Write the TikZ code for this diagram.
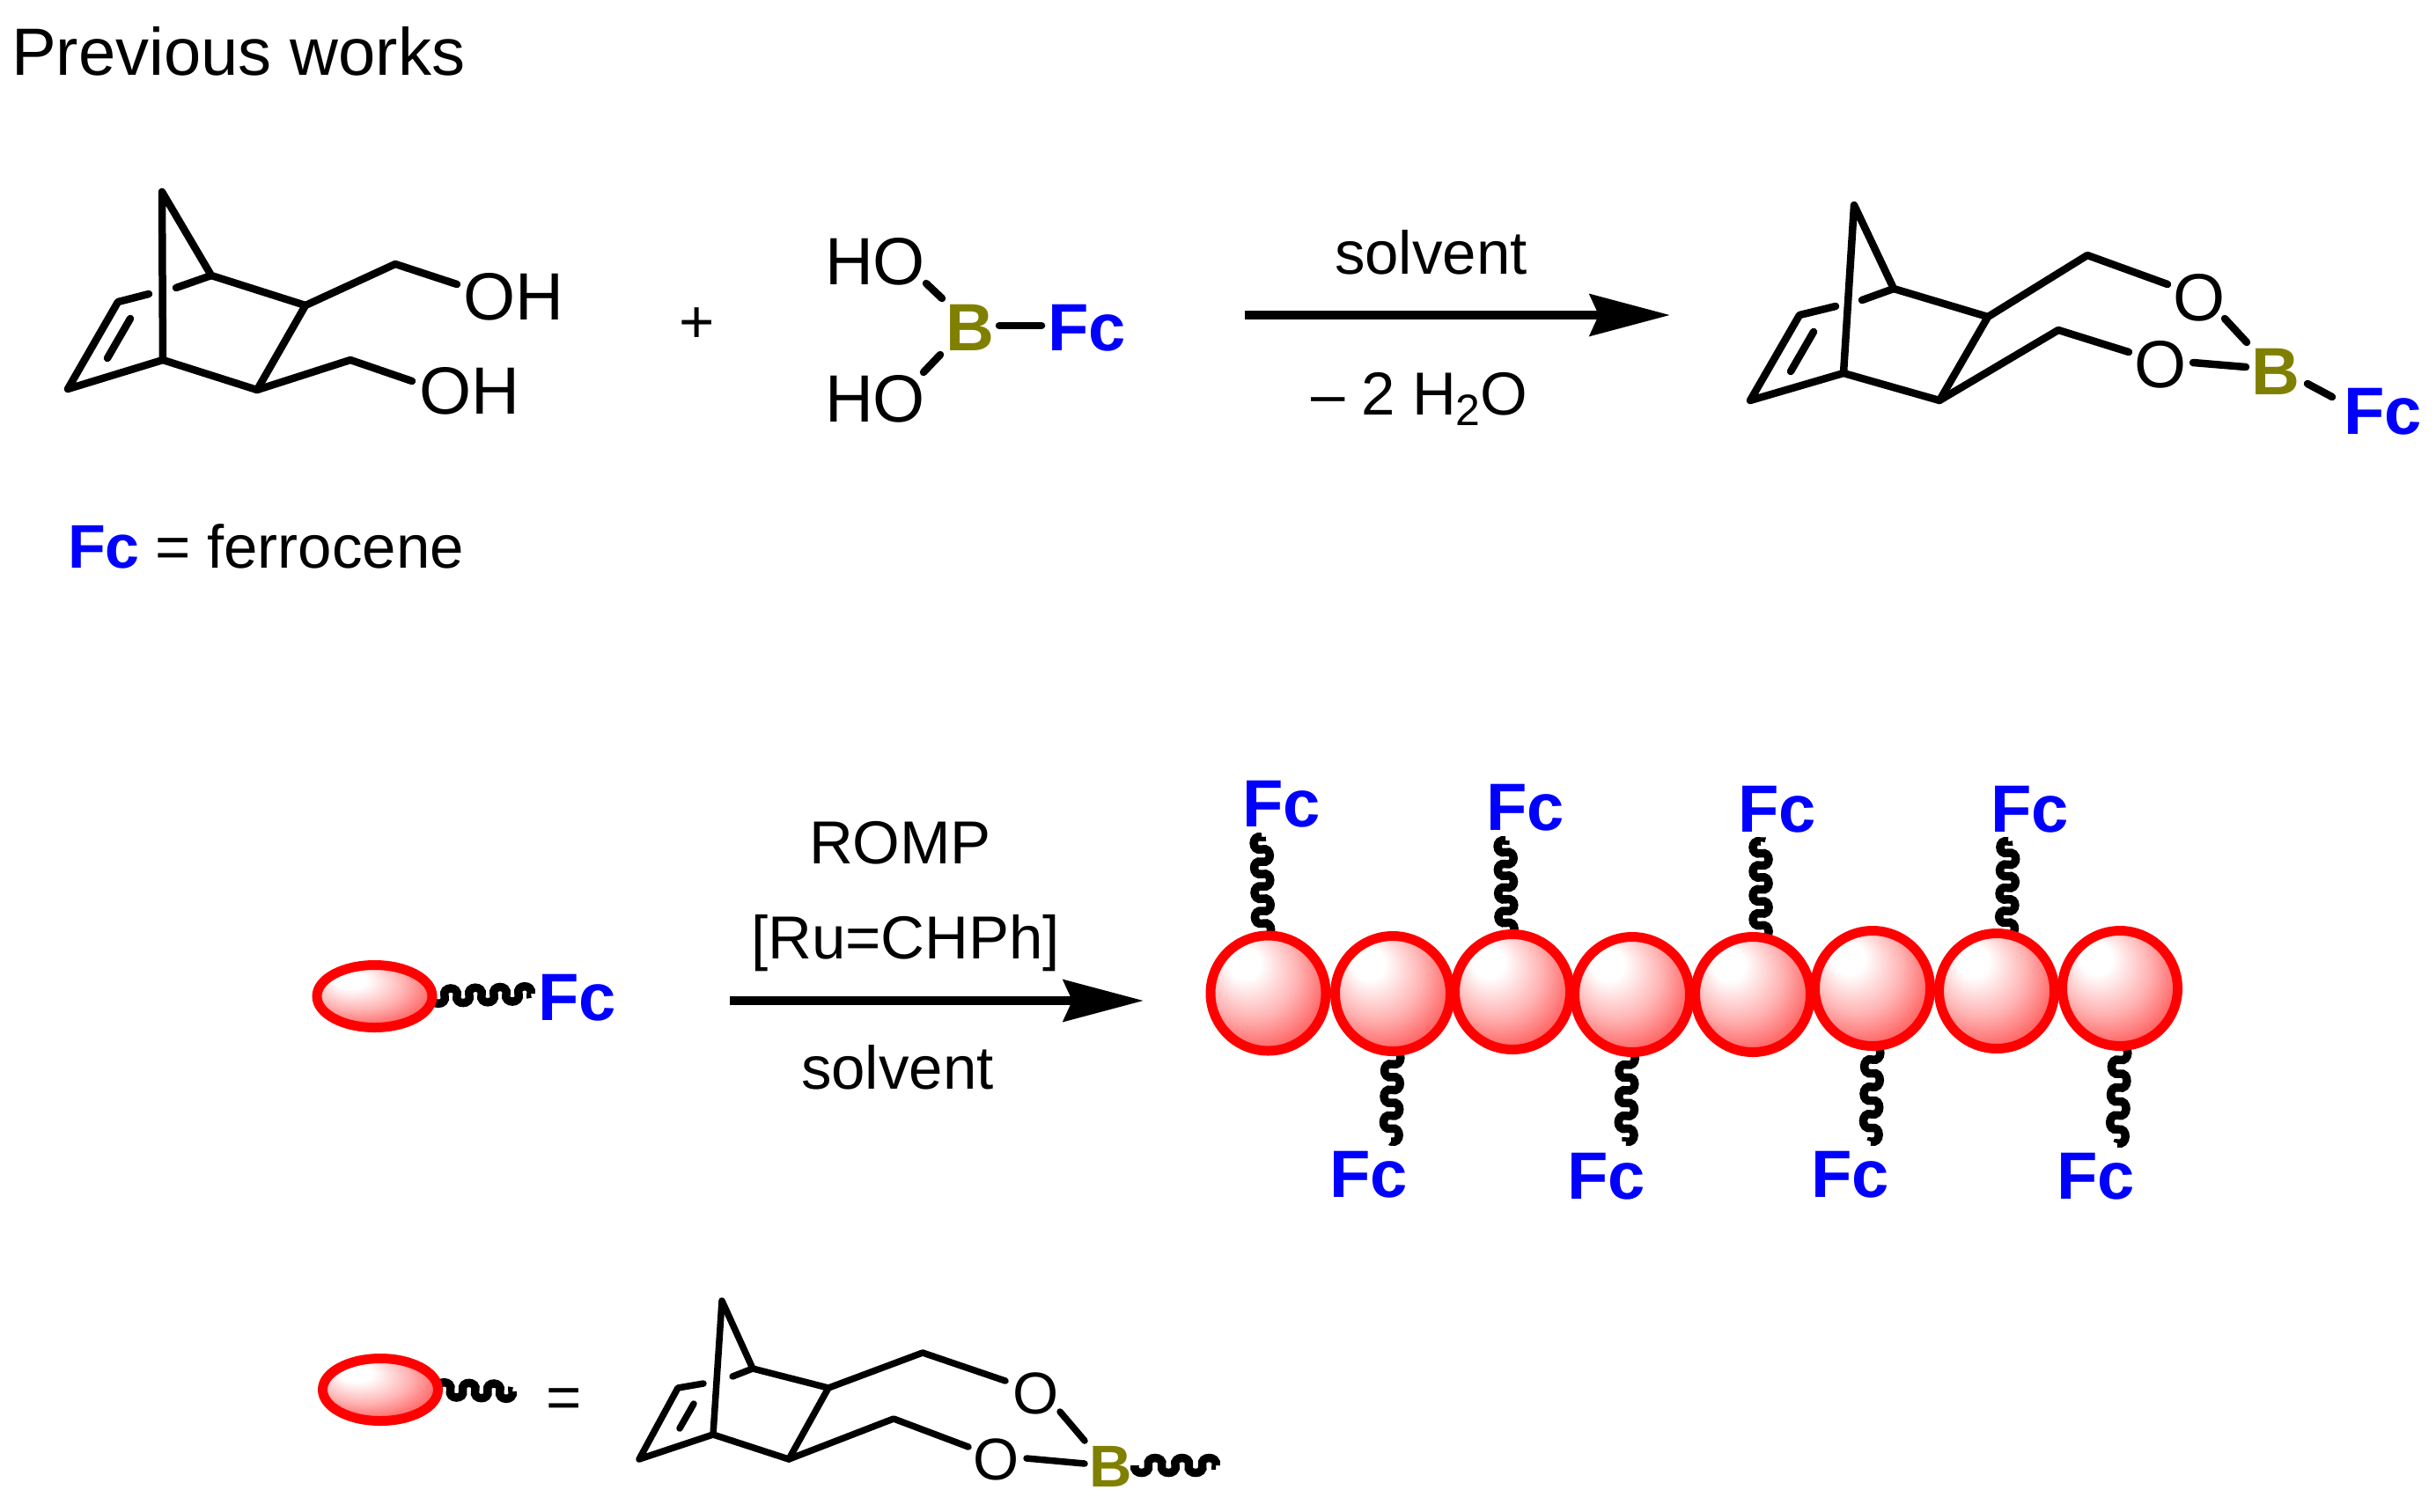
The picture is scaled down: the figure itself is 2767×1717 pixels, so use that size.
\documentclass[tikz,border=0pt]{standalone}
\usepackage{fontspec}
\setmainfont{Liberation Sans}
\usetikzlibrary{arrows.meta,shapes.geometric,decorations}
\pgfdeclarelayer{bg}
\pgfsetlayers{bg,main}
\definecolor{boronc}{RGB}{128,128,0}
\definecolor{fcblue}{RGB}{0,0,255}
\pgfdeclareradialshading{ballshade}{\pgfpoint{-12bp}{15bp}}{color(0bp)=(white);color(7bp)=(white);color(20bp)=(red!30!white);color(33bp)=(red!68!white);color(43bp)=(red);color(50bp)=(red)}
\pgfdeclaredecoration{swave}{up}{
  \state{up}[switch if less than=1pt to final,width=\pgfdecoratedpathlength/\wavecount,next state=down]{
    \pgfmathsetlengthmacro\wvw{\pgfdecoratedpathlength/\wavecount}
    \pgfpathcurveto{\pgfpoint{-3pt}{1.33*\pgfdecorationsegmentamplitude}}{\pgfpoint{\wvw+3pt}{1.33*\pgfdecorationsegmentamplitude}}{\pgfpoint{\wvw}{0pt}}
  }
  \state{down}[switch if less than=1pt to final,width=\pgfdecoratedpathlength/\wavecount,next state=up]{
    \pgfmathsetlengthmacro\wvw{\pgfdecoratedpathlength/\wavecount}
    \pgfpathcurveto{\pgfpoint{-3pt}{-1.33*\pgfdecorationsegmentamplitude}}{\pgfpoint{\wvw+3pt}{-1.33*\pgfdecorationsegmentamplitude}}{\pgfpoint{\wvw}{0pt}}
  }
  \state{final}{\pgfpathlineto{\pgfpointdecoratedpathlast}}
}
\tikzset{
  x=1pt,y=-1pt,
  bond/.style={line width=8.5pt,line cap=round,line join=round},
  sbond/.style={line width=7.5pt,line cap=round,line join=round},
  rxn/.style={line width=10pt,-{Stealth[length=91pt,width=47pt,inset=10pt]}},
  lab/.style={anchor=base west,inner sep=0pt,outer sep=0pt,font=\fontsize{76}{76}\selectfont},
  txt/.style={anchor=base west,inner sep=0pt,outer sep=0pt,font=\fontsize{69}{69}\selectfont},
  slab/.style={anchor=base west,inner sep=0pt,outer sep=0pt,font=\fontsize{67}{67}\selectfont},
  fc/.style={lab,text=fcblue,font=\fontsize{76}{76}\selectfont\bfseries},
  boron/.style={lab,text=boronc,font=\fontsize{76}{76}\selectfont\bfseries},
  bead/.style={circle,inner sep=0pt,outer sep=0pt,minimum size=131pt,draw=red,line width=11pt,shading=ballshade},
  capsule/.style={ellipse,inner sep=0pt,outer sep=0pt,minimum width=131pt,minimum height=71pt,draw=red,line width=11pt,shading=ballshade},
  setwaves/.code={\def\wavecount{#1}},
  wig/.style 2 args={line width=9.5pt,setwaves=#1,decorate,decoration={swave,amplitude=#2}},
}
\begin{document}
\begin{tikzpicture}
\useasboundingbox (0,0) rectangle (2767,1717);

\node[lab] (title) at (13,85) {Previous works};

% --- diol
\coordinate (a1) at (184,218);
\coordinate (a2) at (185,409);
\coordinate (a3) at (240,313);
\coordinate (a4) at (347,347);
\coordinate (a5) at (292,443);
\coordinate (a6) at (449,300);
\coordinate (a7) at (519,323);
\coordinate (a8) at (398,409);
\coordinate (a9) at (468,433);
\coordinate (a10) at (77,442);
\coordinate (a11) at (134,343);
\coordinate (a12) at (169,334);
\coordinate (a13) at (200,327);
\coordinate (a14) at (148,362);
\coordinate (a15) at (122,407);
\draw[bond] (a2) -- (a1) -- (a3) -- (a4) -- (a5) -- (a2) -- (a10) -- (a11) -- (a12);
\draw[bond] (a13) -- (a3);
\draw[bond] (a4) -- (a6) -- (a7);
\draw[bond] (a5) -- (a8) -- (a9);
\draw[bond] (a14) -- (a15);
\node[lab] (oh1) at (526,363) {OH};
\node[lab] (oh2) at (476,470) {OH};
\node[txt] (plus) at (771,389) {+};

\node[txt] (fclabel) at (77,645) {\fontsize{70}{70}\selectfont\bfseries\textcolor{fcblue}{Fc}};
\node[txt] (fctext) at (176,645) {= ferrocene};

% --- boronic acid
\node[lab] (ho1) at (937,323) {HO};
\node[lab] (ho2) at (937,479) {HO};
\node[boron] (b1) at (1074,398) {B};
\node[fc] (fc1) at (1190,398) {Fc};
\coordinate (c1) at (1052,322);
\coordinate (c2) at (1070,339);
\coordinate (c3) at (1135,370);
\coordinate (c4) at (1183,370);
\coordinate (c5) at (1068,403);
\coordinate (c6) at (1049,423);
\draw[bond] (c1) -- (c2);
\draw[bond] (c3) -- (c4);
\draw[bond] (c5) -- (c6);

% --- arrow 1
\coordinate (r1s) at (1414,358);
\coordinate (r1e) at (1897,358);
\draw[rxn] (r1s) -- (r1e);
\node[txt] (solv1) at (1516,311) {solvent};
\node[txt] (water) at (1489,471) {– 2 H{\fontsize{50}{50}\selectfont\raisebox{-12pt}{2}}O};

% --- boronate ester
\coordinate (d1) at (2106,233);
\coordinate (d2) at (2094,424);
\coordinate (d3) at (2151,328);
\coordinate (d4) at (2258,360);
\coordinate (d5) at (2203,455);
\coordinate (d6) at (2371,290);
\coordinate (d7) at (2462,323);
\coordinate (d8) at (2338,375);
\coordinate (d9) at (2418,400);
\coordinate (d10) at (1988,455);
\coordinate (d11) at (2044,358);
\coordinate (d12) at (2085,348);
\coordinate (d13) at (2115,341);
\coordinate (d14) at (2060,377);
\coordinate (d15) at (2034,422);
\coordinate (d16) at (2527,362);
\coordinate (d17) at (2552,389);
\coordinate (d18) at (2491,412);
\coordinate (d19) at (2551,417);
\coordinate (d20) at (2621,436);
\coordinate (d21) at (2649,451);
\draw[bond] (d2) -- (d1) -- (d3) -- (d4) -- (d5) -- (d2) -- (d10) -- (d11) -- (d12);
\draw[bond] (d13) -- (d3);
\draw[bond] (d4) -- (d6) -- (d7);
\draw[bond] (d5) -- (d8) -- (d9);
\draw[bond] (d14) -- (d15);
\draw[bond] (d16) -- (d17);
\draw[bond] (d18) -- (d19);
\draw[bond] (d20) -- (d21);
\node[lab] (o1) at (2468,364) {O};
\node[lab] (o2) at (2424,440) {O};
\node[boron] (b2) at (2557,448) {B};
\node[fc] (fc2) at (2662,493) {Fc};

% --- monomer
\node[capsule] (cap1) at (425.5,1132) {};
\coordinate (w0) at (603,1129);
\node[fc] (fcm) at (611,1159) {Fc};

% --- arrow 2
\coordinate (r2s) at (829,1137);
\coordinate (r2e) at (1299,1137);
\draw[rxn] (r2s) -- (r2e);
\node[txt] (romp) at (919,981) {ROMP};
\node[txt] (ru) at (853,1089) {[Ru=CHPh]};
\node[txt] (solv2) at (910,1237) {solvent};

% --- polymer
\node[bead] (p1) at (1440.5,1128.5) {};
\node[bead] (p2) at (1582,1129) {};
\node[bead] (p3) at (1718,1127) {};
\node[bead] (p4) at (1854,1130) {};
\node[bead] (p5) at (1991,1130) {};
\node[bead] (p6) at (2127,1123) {};
\node[bead] (p7) at (2268,1126) {};
\node[bead] (p8) at (2408,1123) {};

\coordinate (w1) at (1433,951);
\coordinate (w2) at (1580,1297);
\coordinate (w3) at (1710,955);
\coordinate (w4) at (1847,1297);
\coordinate (w5) at (2000,956);
\coordinate (w6) at (2125,1297);
\coordinate (w7) at (2281,956);
\coordinate (w8) at (2405,1299);

\node[fc] (f1) at (1411,939) {Fc};
\node[fc] (f2) at (1510,1360) {Fc};
\node[fc] (f3) at (1688,943) {Fc};
\node[fc] (f4) at (1780,1362) {Fc};
\node[fc] (f5) at (1974,945) {Fc};
\node[fc] (f6) at (2057,1360) {Fc};
\node[fc] (f7) at (2261,945) {Fc};
\node[fc] (f8) at (2336,1362) {Fc};

% --- legend
\node[capsule] (cap2) at (432,1579) {};
\coordinate (w9) at (582,1581);
\node[txt] (eq) at (620,1611) {=};

\coordinate (e1) at (820,1478);
\coordinate (e2) at (810,1630);
\coordinate (e3) at (855,1555);
\coordinate (e4) at (941,1577);
\coordinate (e5) at (896,1658);
\coordinate (e6) at (1048,1537);
\coordinate (e7) at (1142,1569);
\coordinate (e8) at (1015,1612);
\coordinate (e9) at (1100,1644);
\coordinate (e10) at (726,1658);
\coordinate (e11) at (770,1577);
\coordinate (e12) at (799,1572);
\coordinate (e13) at (832,1564);
\coordinate (e14) at (788,1595);
\coordinate (e15) at (772,1623);
\coordinate (e16) at (1204,1604);
\coordinate (e17) at (1232,1637);
\coordinate (e18) at (1166,1657);
\coordinate (e19) at (1232,1663);
\draw[sbond] (e2) -- (e1) -- (e3) -- (e4) -- (e5) -- (e2) -- (e10) -- (e11) -- (e12);
\draw[sbond] (e13) -- (e3);
\draw[sbond] (e4) -- (e6) -- (e7);
\draw[sbond] (e5) -- (e8) -- (e9);
\draw[sbond] (e14) -- (e15);
\draw[sbond] (e16) -- (e17);
\draw[sbond] (e18) -- (e19);
\node[slab] (o3) at (1150,1606) {O};
\node[slab] (o4) at (1105,1681) {O};
\node[slab,text=boronc,font=\fontsize{67}{67}\selectfont\bfseries] (b3) at (1237,1689) {B};
\coordinate (w10s) at (1289,1665);
\coordinate (w10e) at (1381,1665);

\begin{pgfonlayer}{bg}
\draw[wig={8}{-8.5pt}] (cap1.east) -- (w0);
\draw[wig={8}{-9pt}] (p1.95) -- (w1);
\draw[wig={7}{9pt}] (p2.south) -- (w2);
\draw[wig={8}{-9pt}] (p3.96) -- (w3);
\draw[wig={7}{9pt}] (p4.265) -- (w4);
\draw[wig={8}{-9pt}] (p5.82) -- (w5);
\draw[wig={7}{9pt}] (p6.south) -- (w6);
\draw[wig={8}{-9pt}] (p7.80) -- (w7);
\draw[wig={7}{9pt}] (p8.south) -- (w8);
\draw[wig={6}{8.5pt}] (cap2.east) -- (w9);
\draw[wig={6}{-8.5pt}] (w10s) -- (w10e);
\end{pgfonlayer}
\end{tikzpicture}
\end{document}
